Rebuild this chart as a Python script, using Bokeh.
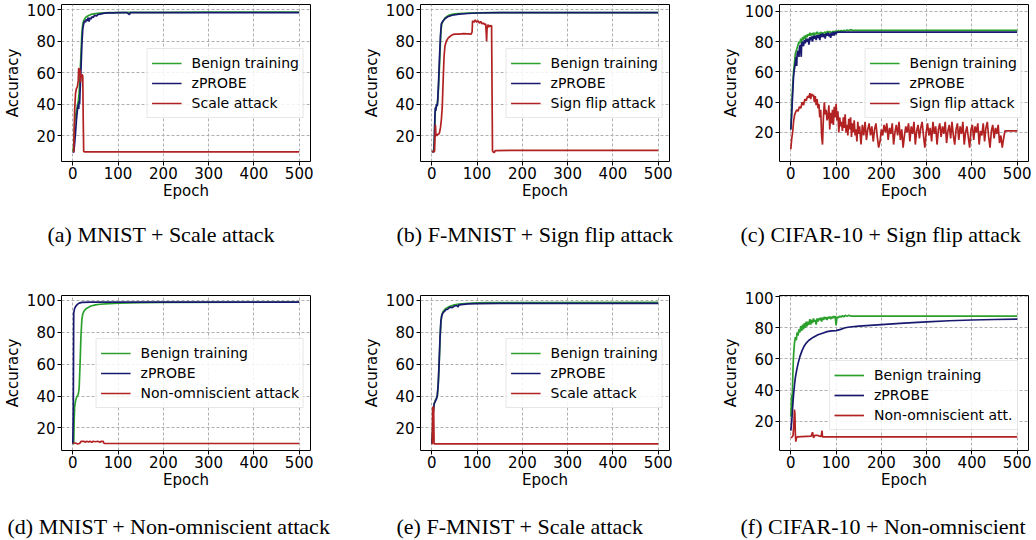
from bokeh.plotting import figure
from bokeh.layouts import row, column
from bokeh.models import Range1d, Title, FixedTicker
from bokeh.embed import file_html
from bokeh.resources import INLINE

# ---------------- data (epoch, accuracy) ----------------
x_ticks = [0, 100, 200, 300, 400, 500]
y_ticks = [20, 40, 60, 80, 100]
series_labels = ["Benign training", "zPROBE"]

# (a) MNIST + Scale attack
a_benign = [(0, 10), (2, 14), (4, 28), (6, 33), (8, 36), (10, 39), (12, 42), (14, 47), (16, 58), (18, 72),
            (20, 85), (22, 91), (24, 93), (27, 94.5), (30, 95.5), (35, 96.3), (40, 97), (50, 97.5), (60, 97.8),
            (70, 98), (80, 98.1), (100, 98.2), (130, 98.3), (200, 98.3), (300, 98.4), (500, 98.4)]
a_zprobe = [(0, 10), (2, 9.5), (4, 15), (6, 22), (8, 30), (10, 36), (11, 38), (12, 40), (13, 37), (14, 42),
            (15, 40), (16, 48), (18, 62), (20, 78), (22, 88), (24, 91), (26, 93), (28, 92), (30, 94), (32, 93),
            (34, 95), (36, 92.5), (38, 95), (40, 94), (42, 95.5), (45, 95), (48, 96.5), (52, 96), (56, 97),
            (60, 97.2), (65, 97.5), (70, 97.8), (80, 98), (90, 98), (100, 98.1), (110, 98.1), (120, 98.2),
            (125, 96.8), (127, 98.2), (130, 98.2), (150, 98.2), (200, 98.2), (300, 98.2), (400, 98.2), (500, 98.2)]
a_attack = [(0, 10), (2, 10), (4, 36), (6, 47), (8, 50), (10, 51), (12, 55), (13, 63), (14, 62), (15, 60),
            (16, 62), (17, 54), (18, 57), (20, 59), (22, 58), (23, 30), (24, 10), (26, 9.8), (100, 9.8),
            (300, 9.8), (500, 9.8)]

# (b) F-MNIST + Sign flip attack
b_benign = [(0, 10), (4, 10), (6, 20), (7, 32), (8, 37), (10, 38), (12, 40), (14, 46), (16, 58), (18, 72),
            (20, 86), (22, 91), (25, 93), (30, 95), (35, 96), (40, 96.8), (50, 97.3), (60, 97.6), (80, 97.9),
            (100, 98), (130, 98.1), (200, 98.2), (500, 98.2)]
b_zprobe = [(0, 10), (5, 10), (6, 24), (7, 34), (8, 38), (9, 36), (10, 40), (12, 39), (13, 42), (15, 55),
            (17, 70), (19, 83), (21, 91), (24, 92.5), (28, 94), (35, 95.5), (45, 96.5), (60, 97.2), (80, 97.6),
            (100, 97.9), (150, 98.1), (200, 98.2), (500, 98.2)]
b_attack = [(0, 10), (6, 10), (8, 27), (9, 21), (11, 20), (13, 21), (15, 21), (17, 22), (19, 25), (21, 30),
            (23, 38), (25, 55), (27, 70), (29, 77), (32, 80), (36, 82), (40, 83), (45, 84), (50, 84.5),
            (60, 84.5), (70, 84.8), (80, 84.7), (87, 84.5), (89, 86), (90, 93), (93, 92), (96, 93.5), (99, 92),
            (102, 93), (105, 91.5), (108, 92.5), (111, 91), (114, 91.5), (117, 90.5), (119, 91), (120, 86),
            (121, 80), (122, 88), (124, 90.5), (126, 89), (128, 90), (130, 89.5), (132, 90), (133, 50),
            (134, 10.5), (136, 9.6), (138, 9.4), (140, 10.6), (200, 10.8), (500, 10.8)]

# (c) CIFAR-10 + Sign flip attack
c_benign = [(0, 22), (2, 38), (4, 50), (6, 60), (8, 66), (10, 72), (12, 74), (14, 76), (16, 78), (18, 80),
            (20, 79), (22, 82), (24, 80), (26, 83), (28, 81), (30, 84), (32, 82), (34, 84.5), (36, 83), (38, 85),
            (40, 84), (42, 86), (44, 84), (46, 85.5), (48, 84.5), (50, 86), (52, 84), (54, 86), (56, 85),
            (58, 86.5), (60, 85), (62, 86), (64, 84), (66, 86.5), (68, 85.5), (70, 86), (72, 85), (75, 86.5),
            (78, 85.5), (81, 87), (84, 86), (87, 86.8), (90, 85.5), (93, 87), (96, 86), (99, 87.3), (102, 86),
            (105, 87.5), (108, 86.5), (111, 87.5), (114, 86.8), (117, 87.6), (120, 87), (124, 87.8),
            (128, 87.2), (132, 88), (136, 87.5), (500, 87.5)]
c_zprobe = [(0, 22), (2, 32), (4, 45), (6, 57), (8, 62), (10, 66), (12, 70), (13, 64), (14, 72), (16, 74),
            (18, 70), (19, 76), (21, 78), (23, 70), (24, 79), (26, 80), (28, 77), (30, 81), (32, 79), (34, 82),
            (36, 80), (38, 82), (40, 78), (42, 83), (44, 81), (46, 83.5), (48, 80), (50, 84), (52, 82), (54, 84),
            (56, 81), (58, 84.5), (60, 82.5), (62, 84.5), (64, 81), (66, 85), (68, 83), (70, 85.5), (72, 83),
            (74, 85), (76, 82), (78, 85.5), (80, 84), (82, 86), (84, 83.5), (86, 85.5), (88, 82.5), (90, 86),
            (92, 84), (94, 86.5), (96, 84), (98, 86.5), (100, 85), (102, 86.4), (500, 86.4)]
c_attack = [(0, 9), (2, 16), (4, 20), (6, 27), (8, 31), (10, 33), (13, 35), (16, 34), (19, 37), (22, 36),
            (25, 40), (28, 38), (31, 42), (34, 41), (37, 44), (40, 43), (42, 46), (44, 42), (46, 45.5), (48, 44),
            (50, 45), (52, 40), (54, 44), (56, 38), (58, 42), (60, 36), (62, 39), (64, 30), (66, 35), (68, 18),
            (70, 12), (72, 30), (74, 40), (76, 32), (78, 35), (80, 28), (82, 30), (84, 38), (86, 22), (88, 33),
            (90, 26), (92, 35), (94, 25), (96, 37), (98, 30), (100, 39), (102, 28), (104, 34), (106, 20),
            (108, 30), (110, 24), (112, 27), (114, 21), (116, 30), (118, 23), (120, 32), (122, 20), (124, 25),
            (126, 18), (128, 29), (130, 22), (132, 30), (134, 17), (136, 26), (138, 20), (140, 28), (142, 18),
            (144, 22), (146, 14), (148, 27), (150, 19), (152, 24), (155, 12), (158, 25), (161, 18), (164, 27),
            (167, 15), (170, 22), (173, 26), (176, 18), (179, 24), (182, 14), (185, 22), (188, 26), (191, 17),
            (194, 10), (197, 14), (200, 22), (203, 18), (206, 25), (209, 20), (212, 26), (215, 15), (218, 23),
            (221, 19), (224, 26), (227, 12), (230, 20), (233, 25), (236, 18), (239, 27), (242, 15), (245, 22),
            (248, 10), (251, 18), (254, 24), (257, 20), (260, 26), (263, 14), (266, 24), (269, 19), (272, 27),
            (275, 12), (278, 21), (281, 25), (284, 16), (287, 23), (290, 27), (293, 18), (296, 10), (299, 20),
            (302, 26), (305, 18), (308, 23), (311, 14), (314, 27), (317, 19), (320, 24), (323, 12), (326, 22),
            (329, 26), (332, 17), (335, 24), (338, 19), (341, 27), (344, 13), (347, 21), (350, 25), (353, 16),
            (356, 27), (359, 18), (362, 12), (365, 22), (368, 26), (371, 15), (374, 24), (377, 19), (380, 27),
            (383, 12), (386, 20), (389, 24), (392, 17), (395, 10), (398, 22), (401, 25), (404, 15), (407, 24),
            (410, 20), (413, 26), (416, 12), (419, 21), (422, 18), (425, 26), (428, 14), (431, 23), (434, 27),
            (437, 17), (440, 10), (443, 21), (446, 25), (449, 16), (452, 23), (455, 19), (458, 25), (461, 13),
            (464, 18), (467, 10), (470, 16), (473, 21), (500, 21)]

# (d) MNIST + Non-omniscient attack
d_benign = [(0, 10), (2, 10), (3, 25), (4, 33), (6, 37), (8, 39), (10, 40), (12, 41), (14, 45), (16, 60),
            (18, 78), (20, 88), (22, 91.5), (25, 93.5), (30, 95), (40, 96.5), (50, 97.2), (60, 97.6), (80, 98),
            (100, 98.3), (150, 98.6), (200, 98.8), (500, 98.9)]
d_zprobe = [(0, 10), (1, 30), (2, 92), (4, 95), (7, 96.5), (10, 97.5), (14, 98.3), (20, 98.8), (40, 99),
            (500, 99)]
d_attack = [(0, 10.5), (5, 10.5), (10, 10), (15, 10.2), (18, 11.5), (25, 11.5), (28, 11), (30, 11.6),
            (35, 11.2), (38, 11.6), (42, 11), (45, 11.6), (50, 11.3), (55, 11.6), (60, 11), (63, 11.6),
            (67, 11.5), (69, 10.2), (500, 10.2)]

# (e) F-MNIST + Scale attack
e_benign = [(0, 10), (2, 20), (3, 30), (5, 35), (8, 37.5), (10, 38.5), (12, 40), (14, 46), (16, 58), (18, 74),
            (20, 86), (22, 91), (25, 93), (30, 94.8), (40, 96.3), (50, 97.2), (60, 97.7), (80, 98.2), (100, 98.5),
            (120, 98.7), (500, 98.8)]
e_zprobe = [(0, 10), (2, 18), (3, 29), (5, 35), (8, 37), (10, 38), (12, 40), (14, 47), (16, 60), (18, 76),
            (20, 87), (22, 90.5), (25, 92.5), (28, 93), (30, 94), (35, 94.5), (40, 95.8), (45, 95.5), (50, 96.5),
            (55, 96.8), (58, 96), (60, 97.2), (70, 97.5), (80, 97.8), (100, 98), (150, 98.1), (500, 98.1)]
e_attack = [(0, 10), (1, 10), (2, 33), (4, 33), (5, 10), (500, 10)]

# (f) CIFAR-10 + Non-omniscient attack
f_benign = [(0, 23), (2, 37), (3, 30), (4, 45), (5, 55), (6, 62), (8, 70), (10, 74), (12, 72), (14, 77),
            (16, 75), (18, 79), (20, 77), (22, 81), (24, 78), (26, 82), (28, 79), (30, 83), (32, 80), (34, 84),
            (36, 81), (38, 84), (40, 82), (42, 85.5), (44, 82), (46, 85), (48, 83), (50, 86), (52, 84), (54, 85),
            (56, 82), (58, 86), (60, 84), (62, 86), (64, 85), (66, 86.5), (68, 84), (70, 86.5), (72, 85),
            (74, 87), (76, 85.5), (78, 86.8), (80, 85), (82, 87), (84, 86), (86, 87.2), (88, 85.5), (90, 87),
            (92, 86), (94, 87.5), (96, 86.3), (98, 87.5), (100, 81.5), (102, 87), (105, 86.5), (108, 87.5),
            (111, 86.8), (114, 87.8), (117, 87), (120, 88), (124, 87.3), (128, 88), (132, 87.5), (500, 87.5)]
f_zprobe = [(0, 14), (2, 20), (4, 29), (6, 37), (8, 43), (10, 48), (13, 53), (16, 57), (20, 61.5), (25, 65.5),
            (30, 68.5), (35, 70.5), (40, 72), (50, 74), (60, 75.5), (70, 76.5), (80, 77.5), (90, 78), (100, 78.2),
            (110, 79), (120, 80), (130, 80.5), (150, 81), (175, 81.5), (200, 82), (250, 83), (300, 83.8),
            (350, 84.5), (400, 85), (450, 85.3), (500, 85.5)]
f_attack = [(0, 9.5), (3, 10), (5, 11), (7, 20), (8, 27.5), (9, 25), (10, 12), (11, 7), (12, 9), (14, 10),
            (45, 10.5), (48, 13), (50, 9.5), (53, 11), (60, 11), (63, 10.5), (67, 10.3), (69, 14), (70, 10),
            (500, 10)]

panels = [
    dict(s=[a_benign, a_zprobe, a_attack], attack="Scale attack", yr=(3.7, 103.3),
         cap="(a) MNIST + Scale attack", off=-14, right=49, row=1, leg="center_right"),
    dict(s=[b_benign, b_zprobe, b_attack], attack="Sign flip attack", yr=(3.7, 103.3),
         cap="(b) F-MNIST + Sign flip attack", off=-24, right=49, row=1, leg="center_right"),
    dict(s=[c_benign, c_zprobe, c_attack], attack="Sign flip attack", yr=(0.8, 104.6),
         cap="(c) CIFAR-10 + Sign flip attack", off=-39, right=13, row=1, leg="center_right"),
    dict(s=[d_benign, d_zprobe, d_attack], attack="Non-omniscient attack", yr=(5.8, 103.1),
         cap="(d) MNIST + Non-omniscient attack", off=-54, right=49, row=2, leg="center_right"),
    dict(s=[e_benign, e_zprobe, e_attack], attack="Scale attack", yr=(5.8, 103.1),
         cap="(e) F-MNIST + Scale attack", off=-24, right=49, row=2, leg="center_right"),
    dict(s=[f_benign, f_zprobe, f_attack], attack="Non-omniscient att.", yr=(1.3, 100.7),
         cap="(f) CIFAR-10 + Non-omniscient", off=-39, right=13, row=2, leg=(50, 20)),
]

COLORS = ["#2ca02c", "#191970", "#b22222"]
FW = 249
SANS = "DejaVu Sans"


def make(cfg):
    if cfg["row"] == 1:
        fh, top, bottom, stand = 157, 4, 130, 35
    else:
        fh, top, bottom, stand = 155, 4, 84, 41
    p = figure(frame_width=FW, frame_height=fh, x_range=Range1d(-25, 525), y_range=Range1d(*cfg["yr"]),
               output_backend="svg", toolbar_location=None,
               min_border_left=54, min_border_right=cfg["right"], min_border_top=top,
               min_border_bottom=bottom)
    p.background_fill_color = "white"
    p.border_fill_color = "white"
    p.outline_line_color = "black"
    p.outline_line_width = 1
    p.outline_line_alpha = 1

    labels = series_labels + [cfg["attack"]]
    for data, color, lab in zip(cfg["s"], COLORS, labels):
        xs = [d[0] for d in data]
        ys = [d[1] for d in data]
        p.line(xs, ys, line_color=color, line_width=1.7, legend_label=lab)

    p.xaxis.ticker = FixedTicker(ticks=x_ticks)
    p.yaxis.ticker = FixedTicker(ticks=y_ticks)
    p.xaxis.axis_label = "Epoch"
    p.yaxis.axis_label = "Accuracy"
    for ax in (p.xaxis[0], p.yaxis[0]):
        ax.axis_line_color = None
        ax.major_tick_line_color = "black"
        ax.major_tick_out = 4
        ax.major_tick_in = 0
        ax.minor_tick_line_color = None
        ax.major_label_text_font = SANS
        ax.major_label_text_font_size = "15px"
        ax.major_label_text_color = "black"
        ax.major_label_standoff = 2
        ax.axis_label_text_font = SANS
        ax.axis_label_text_font_size = "15px"
        ax.axis_label_text_font_style = "normal"
        ax.axis_label_text_color = "black"
    p.xaxis.major_label_standoff = 1
    p.xaxis.axis_label_standoff = 0
    p.yaxis.axis_label_standoff = 2

    p.grid.grid_line_color = "#b0b0b0"
    p.grid.grid_line_dash = "3 2"
    p.grid.grid_line_width = 1

    lg = p.legend[0]
    lg.location = cfg["leg"]
    lg.margin = 6
    lg.padding = 4
    lg.spacing = 0
    lg.glyph_width = 30
    lg.glyph_height = 20
    lg.label_height = 20
    lg.label_standoff = 10
    lg.label_text_font = SANS
    lg.label_text_font_size = "14px"
    lg.label_text_color = "black"
    lg.border_line_color = "#d0d0d0"
    lg.border_line_width = 1
    lg.background_fill_alpha = 0.85

    p.add_layout(Title(text=cfg["cap"], align="left", offset=cfg["off"], text_font="Liberation Serif",
                       text_font_size="22px", text_font_style="normal", text_color="black",
                       standoff=stand), "below")
    return p


figs = [make(c) for c in panels]
layout = column(row(*figs[:3]), row(*figs[3:]))

open("out.html", "w").write(file_html(layout, INLINE))
